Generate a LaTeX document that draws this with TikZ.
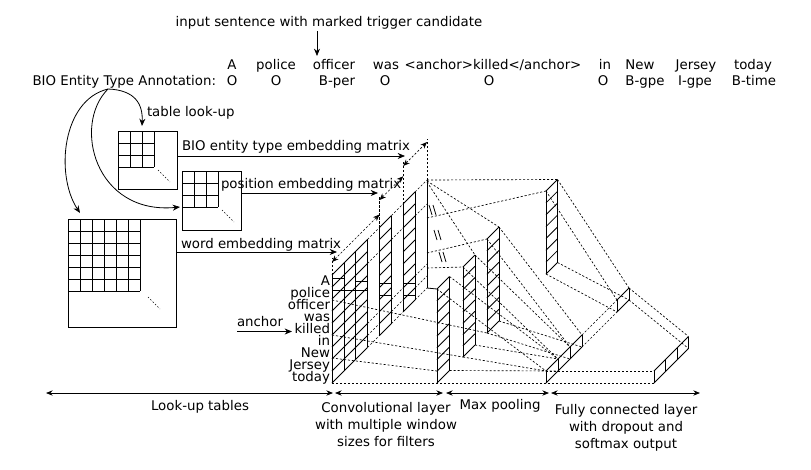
\documentclass[tikz,border=0pt]{standalone}
\usepackage{fontspec}
\setmainfont{DejaVu Sans}
\usetikzlibrary{arrows.meta}
\newcommand\myslab[5]{%
  \pgfmathsetmacro\sxl{#1}\pgfmathsetmacro\sxr{#2}\pgfmathsetmacro\syb{#3}\pgfmathsetmacro\sh{#4}%
  \pgfmathsetmacro\syr{\syb-(\sxr-\sxl)}%
  \draw[ln] (\sxl,\syb) -- (\sxl,{\syb-\sh});
  \draw[ln] (\sxr,\syr) -- (\sxr,{\syr-\sh});
  \foreach \k in {0,...,#5} \draw[ln] (\sxl,{\syb-\k*\sh/#5}) -- (\sxr,{\syr-\k*\sh/#5});
}
\begin{document}
\begin{tikzpicture}[x=0.75pt,y=-0.75pt,
  every node/.style={font=\fontsize{10}{12}\selectfont, inner sep=0pt, outer sep=0pt},
  ln/.style={line width=0.6pt},
  dl/.style={line width=0.5pt, dash pattern=on 1.6pt off 1.4pt},
  dots/.style={line width=0.5pt, dash pattern=on 1pt off 1.5pt},
  arr/.style={-{Stealth[length=5.5pt,width=4.5pt]}, line width=0.6pt},
  darr/.style={{Stealth[length=5pt,width=4pt]}-{Stealth[length=5pt,width=4pt]}, line width=0.5pt, dash pattern=on 1.6pt off 1.4pt},
  bar/.style={{Stealth[length=5pt,width=4pt]}-{Stealth[length=5pt,width=4pt]}, line width=0.6pt},
  lbl/.style={align=center, font=\fontsize{10}{12.8}\selectfont},
]
\useasboundingbox (0,0) rectangle (811,469);

% ---------- top sentence ----------
\node[anchor=base] (title) at (329,26.5) {input sentence with marked trigger candidate};
\node[anchor=base] (s1) at (232,69.5) {A};
\node[anchor=base] (s2) at (276,69.5) {police};
\node[anchor=base] (s3) at (334,69.5) {officer};
\node[anchor=base] (s4) at (386,69.5) {was};
\node[anchor=base] (s5) at (493,69.5) {<anchor>killed</anchor>};
\node[anchor=base] (s6) at (605,69.5) {in};
\node[anchor=base] (s7) at (640,69.5) {New};
\node[anchor=base] (s8) at (696,69.5) {Jersey};
\node[anchor=base] (s9) at (753,69.5) {today};
\coordinate (ta) at (317,31);
\coordinate (tb) at (317,56);
\draw[arr] (ta) -- (tb);

\node[anchor=base east] (bio) at (216,85.5) {BIO Entity Type Annotation:};
\node[anchor=base] (b1) at (232,85.5) {O};
\node[anchor=base] (b2) at (276,85.5) {O};
\node[anchor=base] (b3) at (337,85.5) {B-per};
\node[anchor=base] (b4) at (385,85.5) {O};
\node[anchor=base] (b5) at (489,85.5) {O};
\node[anchor=base] (b6) at (603,85.5) {O};
\node[anchor=base] (b7) at (645,85.5) {B-gpe};
\node[anchor=base] (b8) at (695,85.5) {I-gpe};
\node[anchor=base] (b9) at (754,85.5) {B-time};

% ---------- look-up arrows ----------
\coordinate (c0) at (108,89);
\coordinate (cb) at (142,126);
\coordinate (cw) at (80,213);
\coordinate (cp) at (180,207);
\draw[arr] (c0) .. controls (135,90) and (143,104) .. (cb);
\draw[arr] (c0) .. controls (62,100) and (55,175) .. (cw);
\draw[arr] (c0) .. controls (72,125) and (95,215) .. (cp);
\node[anchor=base west] (tlk) at (147,116) {table look-up};

% ---------- embedding matrices ----------
\draw[ln] (118,131) rectangle (177,189);
\foreach \i in {0,...,3} {\draw[ln] ({118+12*\i},131) -- ({118+12*\i},167); \draw[ln] (118,{131+12*\i}) -- (154,{131+12*\i});}
\draw[dots] (158,170) -- (170,182);
\draw[ln] (182,171) rectangle (241,230);
\foreach \i in {0,...,3} {\draw[ln] ({182+12*\i},171) -- ({182+12*\i},207); \draw[ln] (182,{171+12*\i}) -- (218,{171+12*\i});}
\draw[dots] (222,210) -- (234,222);
\draw[ln] (68,219) rectangle (176,327);
\foreach \i in {0,...,6} {\draw[ln] ({68+12*\i},219) -- ({68+12*\i},291); \draw[ln] (68,{219+12*\i}) -- (140,{219+12*\i});}
\draw[dots] (148,297) -- (160,309);

\node[anchor=base west] (lb) at (182,150.5) {BIO entity type embedding matrix};
\coordinate (lb1) at (177,156); \coordinate (lb2) at (405,156);
\draw[arr] (lb1) -- (lb2);
\node[anchor=base west] (lp) at (221,188.5) {position embedding matrix};
\coordinate (lp1) at (241,193); \coordinate (lp2) at (378,193);
\draw[arr] (lp1) -- (lp2);
\node[anchor=base west] (lw) at (181,248) {word embedding matrix};
\coordinate (lw1) at (176,252); \coordinate (lw2) at (337,252);
\draw[arr] (lw1) -- (lw2);

% ---------- input block ----------
\foreach \cx in {332,343.9,355.75,367.6,379.5,391.4,403.25,415.1} \draw[ln] (\cx,{715-\cx}) -- (\cx,{607-\cx});
\draw[ln] (427,288) -- (427,180);
\foreach \k in {0,...,9} {
  \draw[ln] (332,{383-12*\k}) -- (367.6,{347.4-12*\k});
  \draw[ln] (379.5,{335.5-12*\k}) -- (391.4,{323.6-12*\k});
  \draw[ln] (403.25,{311.75-12*\k}) -- (415.1,{299.9-12*\k});
}
\foreach \k in {0,1,2,7,9} {
  \draw[dl] (367.6,{347.4-12*\k}) -- (379.5,{335.5-12*\k});
  \draw[dl] (391.4,{323.6-12*\k}) -- (403.25,{311.75-12*\k});
  \draw[dl] (415.1,{299.9-12*\k}) -- (427,{288-12*\k});
}
\draw[ln] (332,278) -- (343.9,278);
\draw[ln] (355.75,281) -- (367.6,281);
\draw[ln] (332,290) -- (367.6,290);
\draw[ln] (379.5,283) -- (391.4,283);
\draw[ln] (379.5,295) -- (391.4,295);
\draw[ln] (403.25,283) -- (415.1,283);
\draw[ln] (403.25,295) -- (415.1,295);

% dimension arrows
\draw[dl] (332,275) -- (332,258);
\draw[dl] (379.5,227.5) -- (379.5,196);
\draw[dl] (403.25,203.75) -- (403.25,160);
\draw[dl] (427,180) -- (427,139);
\draw[darr] (332,262) -- (379.5,214.5);
\draw[darr] (379.5,200) -- (403.25,176.25);
\draw[darr] (403.25,166) -- (427,142);

% word labels
\node[anchor=base east] (r1) at (330,285.5) {A};
\node[anchor=base east] (r2) at (330,297.5) {police};
\node[anchor=base east] (r3) at (330,309.5) {officer};
\node[anchor=base east] (r4) at (330,321.5) {was};
\node[anchor=base east] (r5) at (330,333.5) {killed};
\node[anchor=base east] (r6) at (330,345.5) {in};
\node[anchor=base east] (r7) at (330,357.5) {New};
\node[anchor=base east] (r8) at (330,369.5) {Jersey};
\node[anchor=base east] (r9) at (330,381.5) {today};
\node[anchor=base west] (anc) at (237,326) {anchor};
\coordinate (an1) at (237,331.5);
\coordinate (an2) at (292,331.5);
\draw[arr] (an1) -- (an2);

% ---------- convolution outputs ----------
\draw[ln] (427,288) -- (437,289);
\myslab{437}{449.5}{383}{94}{8}
\myslab{463}{475}{357}{90}{8}
\myslab{487}{499}{333}{94}{8}
\myslab{546}{557.5}{274}{83}{7}

\draw[dl] (427,180) -- (557.5,179.5);
\draw[dl] (427,218) -- (546,191);
\draw[dl] (427,181) -- (499,227);
\draw[dl] (427,253) -- (487,239);
\draw[dl] (427,268) -- (463,267);
\draw[dl] (427,182) -- (475,255);
\draw[dl] (332,358) -- (437,371);
\draw[dl] (332,335) -- (463,357);
\draw[dl] (332,300) -- (487,333);
\foreach \px/\py in {432/210,437/235,442/257} {
  \draw[ln] ({\px-3},{\py-5}) -- (\px,{\py+5});
  \draw[ln] ({\px+1},{\py-5}) -- ({\px+4},{\py+5});
}

% ---------- pooled vector ----------
\foreach \cx in {546,558,570,582} \draw[ln] (\cx,{929-\cx}) -- (\cx,{917-\cx});
\draw[ln] (546,383) -- (582,347);
\draw[ln] (546,371) -- (582,335);
\foreach \cx in {617,629} \draw[ln] (\cx,{929-\cx}) -- (\cx,{917-\cx});
\draw[ln] (617,312) -- (629,300);
\draw[ln] (617,300) -- (629,288);
\draw[dl] (582,347) -- (617,312);
\draw[dl] (582,335) -- (617,300);

\draw[dl] (449.5,370.5) -- (558,371);
\draw[dl] (437,289) -- (546,371);
\draw[dl] (449.5,276.5) -- (558,359);
\draw[dl] (463,357) -- (546,371);
\draw[dl] (475,345) -- (558,359);
\draw[dl] (463,267) -- (558,359);
\draw[dl] (475,255) -- (570,347);
\draw[dl] (487,333) -- (570,359);
\draw[dl] (499,321) -- (582,347);
\draw[dl] (487,239) -- (570,347);
\draw[dl] (499,227) -- (582,335);
\draw[dl] (546,274) -- (617,312);
\draw[dl] (557.5,262.5) -- (629,300);
\draw[dl] (546,191) -- (617,300);
\draw[dl] (557.5,179.5) -- (629,288);

% ---------- output ----------
\foreach \cx in {654,665.5,677,688.5} \draw[ln] (\cx,{1037-\cx}) -- (\cx,{1025-\cx});
\draw[ln] (654,383) -- (688.5,348.5);
\draw[ln] (654,371) -- (688.5,336.5);
\draw[dl] (332,383) -- (654,383);
\draw[dl] (546,371) -- (654,371);
\draw[dl] (629,288) -- (688.5,336.5);
\draw[dl] (629,300) -- (688.5,348.5);

% ---------- bottom ----------
\coordinate (a0) at (46,393); \coordinate (a1) at (333,393);
\coordinate (a2) at (335,393); \coordinate (a3) at (443,393);
\coordinate (a4) at (446,393); \coordinate (a5) at (549,393);
\coordinate (a6) at (551,393); \coordinate (a7) at (700,393);
\draw[bar] (a0) -- (a1);
\draw[bar] (a2) -- (a3);
\draw[bar] (a4) -- (a5);
\draw[bar] (a6) -- (a7);
\node[lbl, anchor=north] (t1) at (200,400) {Look-up tables};
\node[lbl, anchor=north] (t2) at (386,402) {Convolutional layer\\with multiple window\\sizes for filters};
\node[lbl, anchor=north] (t3) at (500,399) {Max pooling};
\node[lbl, anchor=north] (t4) at (626,404) {Fully connected layer\\with dropout and\\softmax output};
\end{tikzpicture}
\end{document}
